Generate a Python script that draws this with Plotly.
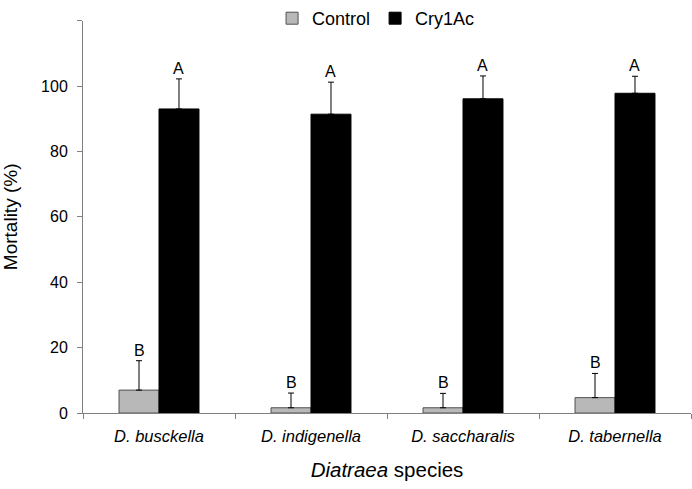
import plotly.graph_objects as go

species = ["D. busckella", "D. indigenella", "D. saccharalis", "D. tabernella"]
control_mean = [7.0, 1.6, 1.6, 4.7]
control_err = [9.0, 4.5, 4.4, 7.4]
cry_mean = [93.0, 91.4, 96.1, 97.8]
cry_err = [9.2, 9.8, 7.0, 5.2]
control_letters = ["B", "B", "B", "B"]
cry_letters = ["A", "A", "A", "A"]
y_ticks = [0, 20, 40, 60, 80, 100, 120]
y_ticktext = ["0", "20", "40", "60", "80", "100", ""]

cats = [f"<i>{s}</i>" for s in species]
font_family = "Arial, Liberation Sans, sans-serif"

fig = go.Figure()
fig.add_trace(go.Bar(
    name="Control", x=cats, y=control_mean,
    marker=dict(color="#b8b8b8", line=dict(color="#505050", width=1)),
    error_y=dict(type="data", array=control_err, arrayminus=[0]*4, symmetric=False,
                 color="black", thickness=1, width=3),
))
fig.add_trace(go.Bar(
    name="Cry1Ac", x=cats, y=cry_mean,
    marker=dict(color="black", line=dict(color="black", width=1)),
    error_y=dict(type="data", array=cry_err, arrayminus=[0]*4, symmetric=False,
                 color="black", thickness=1, width=3),
))

bargap = 0.474
half = (1 - bargap) / 4
for i in range(len(species)):
    fig.add_annotation(x=i - half, y=control_mean[i] + control_err[i], text=control_letters[i],
                       showarrow=False, yanchor="bottom", xref="x", yref="y",
                       font=dict(size=16, color="black", family=font_family))
    fig.add_annotation(x=i + half, y=cry_mean[i] + cry_err[i], text=cry_letters[i],
                       showarrow=False, yanchor="bottom", xref="x", yref="y",
                       font=dict(size=16, color="black", family=font_family))

fig.update_layout(
    width=692, height=489,
    margin=dict(l=83, r=1, t=0, b=76),
    paper_bgcolor="white", plot_bgcolor="white",
    barmode="group", bargap=bargap, bargroupgap=0,
    font=dict(family=font_family, color="black", size=16),
    showlegend=True,
    legend=dict(orientation="h", x=0.482, xanchor="center", y=1.0, yanchor="top",
                font=dict(size=18), bgcolor="rgba(0,0,0,0)", itemwidth=30, tracegroupgap=0),
    xaxis=dict(
        showline=True, linecolor="#808080", linewidth=1, automargin=False,
        ticks="outside", tickson="boundaries", ticklen=5, tickcolor="#808080",
        tickfont=dict(size=16.5), showgrid=False, ticklabelstandoff=8,
        title=dict(text="<i>Diatraea</i> species", font=dict(size=20.5), standoff=18),
    ),
    yaxis=dict(
        domain=[0, 0.9499],
        range=[0, 120], tickvals=y_ticks, ticktext=y_ticktext,
        showline=True, linecolor="#808080", linewidth=1, automargin=False,
        ticks="outside", ticklen=5, tickcolor="#808080", ticklabelstandoff=6,
        tickfont=dict(size=16), showgrid=False, zeroline=False,
        title=dict(text="Mortality (%)", font=dict(size=19), standoff=23),
    ),
)

fig.write_html("out.html", config={"displayModeBar": False},
               post_script="document.body.style.margin='0';")
